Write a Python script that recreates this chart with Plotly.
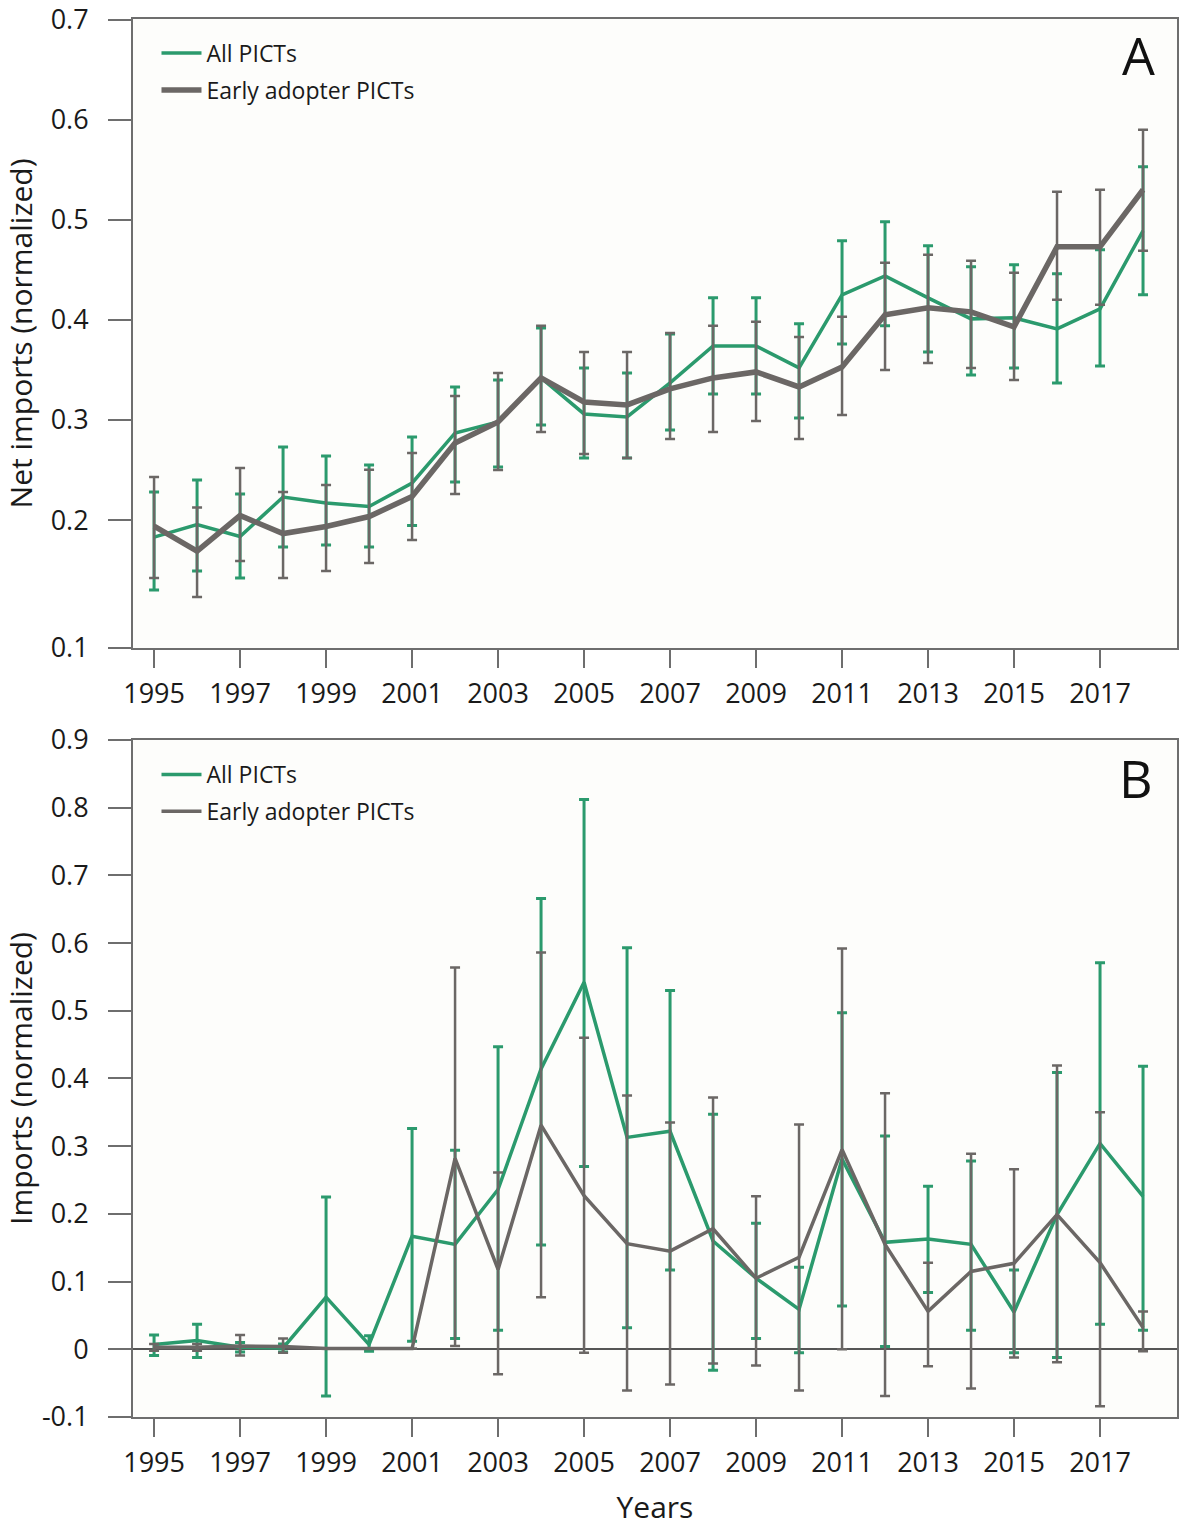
import plotly.graph_objects as go
from plotly.subplots import make_subplots

years = list(range(1995, 2019))

# Panel A: net imports (normalized)
all_A = [0.183, 0.1955, 0.1835, 0.223, 0.217, 0.2135, 0.237, 0.287, 0.298, 0.342, 0.306, 0.303,
         0.337, 0.374, 0.374, 0.352, 0.425, 0.444, 0.422, 0.401, 0.402, 0.391, 0.411, 0.489]
all_A_hi = [0.228, 0.240, 0.226, 0.273, 0.264, 0.255, 0.283, 0.333, 0.340, 0.392, 0.352, 0.347,
            0.386, 0.422, 0.422, 0.396, 0.479, 0.498, 0.474, 0.453, 0.455, 0.446, 0.470, 0.553]
all_A_lo = [0.130, 0.149, 0.142, 0.173, 0.175, 0.173, 0.1945, 0.238, 0.253, 0.295, 0.262, 0.262,
            0.290, 0.326, 0.326, 0.302, 0.376, 0.394, 0.368, 0.345, 0.352, 0.337, 0.354, 0.425]
early_A = [0.194, 0.169, 0.2045, 0.1865, 0.1935, 0.2035, 0.2235, 0.277, 0.298, 0.342, 0.318, 0.315,
           0.331, 0.342, 0.348, 0.333, 0.353, 0.405, 0.412, 0.408, 0.393, 0.473, 0.473, 0.530]
early_A_hi = [0.243, 0.2125, 0.252, 0.228, 0.235, 0.2503, 0.267, 0.324, 0.347, 0.394, 0.368, 0.368,
              0.387, 0.394, 0.398, 0.383, 0.403, 0.457, 0.465, 0.459, 0.447, 0.528, 0.530, 0.590]
early_A_lo = [0.142, 0.123, 0.159, 0.142, 0.149, 0.157, 0.180, 0.226, 0.250, 0.288, 0.266, 0.262,
              0.281, 0.288, 0.299, 0.281, 0.305, 0.350, 0.357, 0.352, 0.340, 0.420, 0.415, 0.469]

# Panel B: imports (normalized)
all_B = [0.007, 0.013, 0.003, 0.002, 0.077, 0.007, 0.167, 0.155, 0.236, 0.414, 0.542, 0.313,
         0.322, 0.160, 0.105, 0.059, 0.281, 0.158, 0.163, 0.155, 0.055, 0.199, 0.304, 0.226]
all_B_hi = [0.021, 0.037, 0.010, 0.008, 0.225, 0.020, 0.326, 0.294, 0.447, 0.666, 0.812, 0.593,
            0.530, 0.347, 0.186, 0.121, 0.497, 0.315, 0.241, 0.278, 0.117, 0.409, 0.571, 0.418]
all_B_lo = [-0.009, -0.012, -0.004, -0.004, -0.069, -0.003, 0.012, 0.016, 0.028, 0.154, 0.270, 0.032,
            0.117, -0.031, 0.016, -0.005, 0.064, 0.004, 0.084, 0.028, -0.005, -0.012, 0.037, 0.028]
early_B = [0.003, 0.003, 0.005, 0.004, 0.001, 0.001, 0.001, 0.282, 0.118, 0.331, 0.227, 0.156,
           0.145, 0.178, 0.105, 0.136, 0.295, 0.155, 0.056, 0.115, 0.127, 0.199, 0.128, 0.032]
early_B_hi = [0.008, 0.008, 0.021, 0.016, 0.001, 0.001, 0.001, 0.564, 0.261, 0.586, 0.460, 0.375,
              0.335, 0.372, 0.226, 0.332, 0.592, 0.378, 0.128, 0.289, 0.266, 0.419, 0.350, 0.056]
early_B_lo = [-0.002, -0.002, -0.009, -0.005, 0.001, 0.001, 0.001, 0.005, -0.037, 0.077, -0.005, -0.061,
              -0.052, -0.021, -0.024, -0.061, 0.000, -0.069, -0.025, -0.058, -0.012, -0.019, -0.084, -0.003]

x_tick_vals = list(range(1995, 2018, 2))
yA_tick_vals = [0.0722, 0.2, 0.3, 0.4, 0.5, 0.6, 0.7]
yA_tick_text = ["0.1", "0.2", "0.3", "0.4", "0.5", "0.6", "0.7"]
yB_tick_vals = [-0.1, 0, 0.1, 0.2, 0.3, 0.4, 0.5, 0.6, 0.7, 0.8, 0.9]
yB_tick_text = ["-0.1", "0", "0.1", "0.2", "0.3", "0.4", "0.5", "0.6", "0.7", "0.8", "0.9"]

GREEN = "#2b9a6d"
GRAY = "#6b6765"
FONT = "Open Sans"
TXT = "#1a1a1a"


def err(vals, hi, lo):
    return ([h - v for h, v in zip(hi, vals)], [v - l for v, l in zip(vals, lo)])


fig = make_subplots(rows=2, cols=1, vertical_spacing=0.0)


def add_pair(row, g, ghi, glo, e, ehi, elo, legend, gw, ew):
    gp, gm = err(g, ghi, glo)
    ep, em = err(e, ehi, elo)
    fig.add_trace(go.Scatter(
        x=years, y=g, mode="lines", name="All PICTs", legend=legend,
        line=dict(color=GREEN, width=gw),
        error_y=dict(type="data", symmetric=False, array=gp, arrayminus=gm,
                     color=GREEN, thickness=3, width=5),
        legendgroup=legend + "a"), row=row, col=1)
    fig.add_trace(go.Scatter(
        x=years, y=e, mode="lines", name="Early adopter PICTs", legend=legend,
        line=dict(color=GRAY, width=ew),
        error_y=dict(type="data", symmetric=False, array=ep, arrayminus=em,
                     color=GRAY, thickness=2.5, width=5),
        legendgroup=legend + "b"), row=row, col=1)


add_pair(1, all_A, all_A_hi, all_A_lo, early_A, early_A_hi, early_A_lo, "legend", 3.5, 5.5)
add_pair(2, all_B, all_B_hi, all_B_lo, early_B, early_B_hi, early_B_lo, "legend2", 3.5, 3.5)

axis_common = dict(showline=True, linecolor="#6e6e6e", linewidth=2, mirror=True,
                   ticks="outside", tickcolor="#6e6e6e", tickwidth=2,
                   showgrid=False, tickfont=dict(family=FONT, size=27, color=TXT))

fig.update_xaxes(range=[1994.51, 2018.79], tickvals=x_tick_vals, ticklen=18,
                 ticklabelstandoff=3, zeroline=False, **axis_common)
fig.update_yaxes(ticklen=23, ticklabelstandoff=14, **axis_common)

title_font = dict(family=FONT, size=30, color=TXT)
legend_font = dict(family=FONT, size=23, color=TXT)

fig.update_layout(
    xaxis=dict(domain=[0, 1]),
    yaxis=dict(domain=[0.5501, 1], range=[0.0722, 0.7006], tickvals=yA_tick_vals,
               ticktext=yA_tick_text, zeroline=False,
               title=dict(text="Net imports (normalized)", standoff=31, font=title_font)),
    xaxis2=dict(domain=[0, 1],
                title=dict(text="Years", standoff=26, font=title_font)),
    yaxis2=dict(domain=[0, 0.4843], range=[-0.1, 0.9], tickvals=yB_tick_vals,
                ticktext=yB_tick_text, zeroline=True, zerolinecolor="#555555", zerolinewidth=1.5,
                title=dict(text="Imports (normalized)", standoff=31, font=title_font)),
    width=1180, height=1527,
    margin=dict(l=133, r=3, t=19, b=110, autoexpand=False),
    paper_bgcolor="white", plot_bgcolor="#fdfdfb",
    showlegend=True,
    legend=dict(x=0.0225, y=0.991, xanchor="left", yanchor="top", xref="paper", yref="paper",
                bgcolor="rgba(0,0,0,0)", font=legend_font, itemwidth=40,
                traceorder="grouped", tracegroupgap=4),
    legend2=dict(x=0.0225, y=0.475, xanchor="left", yanchor="top", xref="paper", yref="paper",
                 bgcolor="rgba(0,0,0,0)", font=legend_font, itemwidth=40,
                 traceorder="grouped", tracegroupgap=4),
    annotations=[
        dict(text="A", x=0.9636, y=0.944, xref="x domain", yref="y domain",
             xanchor="center", yanchor="middle",
             showarrow=False, font=dict(family=FONT, size=52, color="#111111")),
        dict(text="B", x=0.961, y=0.944, xref="x2 domain", yref="y2 domain",
             xanchor="center", yanchor="middle",
             showarrow=False, font=dict(family=FONT, size=52, color="#111111")),
    ],
)

fig.write_html("out.html", config={"displayModeBar": False},
               post_script="document.body.style.margin='0px';")
